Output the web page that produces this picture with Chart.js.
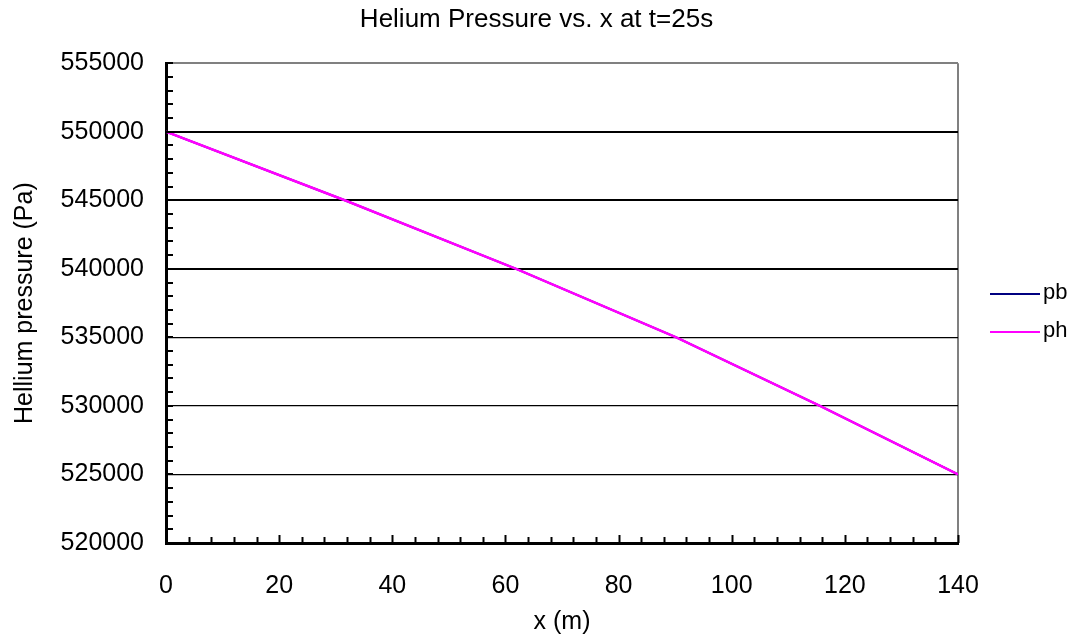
<!DOCTYPE html>
<html lang="en">
<head>
  <meta charset="UTF-8">
  <title>Helium Pressure vs. x at t=25s</title>
  <script src="https://cdn.jsdelivr.net/npm/chart.js"></script>
  <style>
    body {
      margin: 0;
      background: white;
    }
    .container {
      width: 1073px;
      height: 639px;
      position: relative;
    }
  </style>
</head>
<body>

<div class="container">
  <canvas id="pressureChart"></canvas>
</div>

<script>
// values
const xPositions = [0, 31.6, 61.9, 90.2, 115.6, 140];
const pbValues = [550000, 545000, 540000, 535000, 530000, 525000];
const phValues = [550000, 545000, 540000, 535000, 530000, 525000];
const seriesNames = ["pb", "ph"];
const seriesColors = ["#000080", "#FF00FF"];

const FONT = "'Liberation Sans', Arial, sans-serif";

function toPoints(xs, ys) {
  return xs.map((x, i) => ({ x: x, y: ys[i] }));
}

// Excel-style minor/major tick marks drawn inside the plot
const insideTicks = {
  id: "insideTicks",
  afterDraw(chart) {
    const ctx = chart.ctx;
    const xs = chart.scales.x, ys = chart.scales.y;
    const area = chart.chartArea;
    ctx.save();
    ctx.strokeStyle = "#000";
    ctx.lineWidth = 2;
    for (let v = ys.min; v <= ys.max; v += 1000) {
      const py = Math.round(ys.getPixelForValue(v));
      ctx.beginPath();
      ctx.moveTo(area.left, py);
      ctx.lineTo(area.left + 7, py);
      ctx.stroke();
    }
    for (let v = xs.min; v <= xs.max; v += 4) {
      const px = Math.round(xs.getPixelForValue(v)) + 0.5;
      const len = v % 20 === 0 ? 8 : 6;
      ctx.beginPath();
      ctx.moveTo(px, area.bottom);
      ctx.lineTo(px, area.bottom - len);
      ctx.stroke();
    }
    ctx.restore();
  }
};

// legend as its own layout box on the right, so the title stays centred on the page
const sideLegend = {
  id: "sideLegend",
  beforeInit(chart) {
    const box = {
      position: "right",
      weight: 100,
      fullSize: false,
      options: {},
      left: 0, top: 0, right: 0, bottom: 0, width: 0, height: 0,
      isHorizontal() { return false; },
      update(maxWidth, maxHeight) {
        this.width = 115;
        this.height = maxHeight;
      },
      draw() {
        const ctx = chart.ctx;
        ctx.save();
        ctx.font = "22px " + FONT;
        ctx.textBaseline = "middle";
        ctx.fillStyle = "#000";
        seriesNames.forEach((name, i) => {
          const y = 294 + i * 38;
          ctx.strokeStyle = seriesColors[i];
          ctx.lineWidth = 2;
          ctx.beginPath();
          ctx.moveTo(this.left + 32, y);
          ctx.lineTo(this.left + 82, y);
          ctx.stroke();
          ctx.fillText(name, this.left + 85, y - 1);
        });
        ctx.restore();
      }
    };
    Chart.layouts.addBox(chart, box);
  }
};

const ctx = document.getElementById("pressureChart").getContext("2d");
new Chart(ctx, {
  type: "line",
  data: {
    datasets: [
      {
        label: seriesNames[0],
        data: toPoints(xPositions, pbValues),
        borderColor: seriesColors[0],
        borderWidth: 2,
        pointRadius: 0,
        order: 2
      },
      {
        label: seriesNames[1],
        data: toPoints(xPositions, phValues),
        borderColor: seriesColors[1],
        borderWidth: 2.5,
        pointRadius: 0,
        order: 1
      }
    ]
  },
  options: {
    responsive: true,
    maintainAspectRatio: false,
    animation: false,
    layout: {
      padding: 0
    },
    plugins: {
      legend: { display: false },
      tooltip: { enabled: false },
      title: {
        display: true,
        text: "Helium Pressure vs. x at t=25s",
        color: "#000",
        font: { family: FONT, size: 26, weight: "normal" },
        padding: { top: 4, bottom: 28 }
      }
    },
    scales: {
      x: {
        type: "linear",
        min: 0,
        max: 140,
        afterFit: s => { s.height = 96; },
        ticks: {
          stepSize: 20,
          color: "#000",
          padding: 28,
          font: { family: FONT, size: 25 }
        },
        grid: {
          drawTicks: false,
          color: c => c.tick && c.tick.value === 140 ? "#808080" : "rgba(0,0,0,0)",
          lineWidth: 2
        },
        border: { color: "#000", width: 3 },
        title: {
          display: true,
          text: "x (m)",
          color: "#000",
          font: { family: FONT, size: 25 },
          padding: { top: 0, bottom: 2 }
        }
      },
      y: {
        min: 520000,
        max: 555000,
        afterFit: s => { s.width = 166; },
        ticks: {
          stepSize: 5000,
          color: "#000",
          padding: 22,
          font: { family: FONT, size: 25 },
          callback: v => String(v)
        },
        grid: {
          drawTicks: false,
          color: c => c.tick && c.tick.value === 555000 ? "#808080" : "#000",
          lineWidth: c => c.tick && c.tick.value >= 540000 ? 2 : 1.3
        },
        border: { color: "#000", width: 3 },
        title: {
          display: true,
          text: "Hellium pressure (Pa)",
          color: "#000",
          font: { family: FONT, size: 25 },
          padding: { top: 10, bottom: 0 }
        }
      }
    }
  },
  plugins: [insideTicks, sideLegend]
});
</script>

</body>
</html>
